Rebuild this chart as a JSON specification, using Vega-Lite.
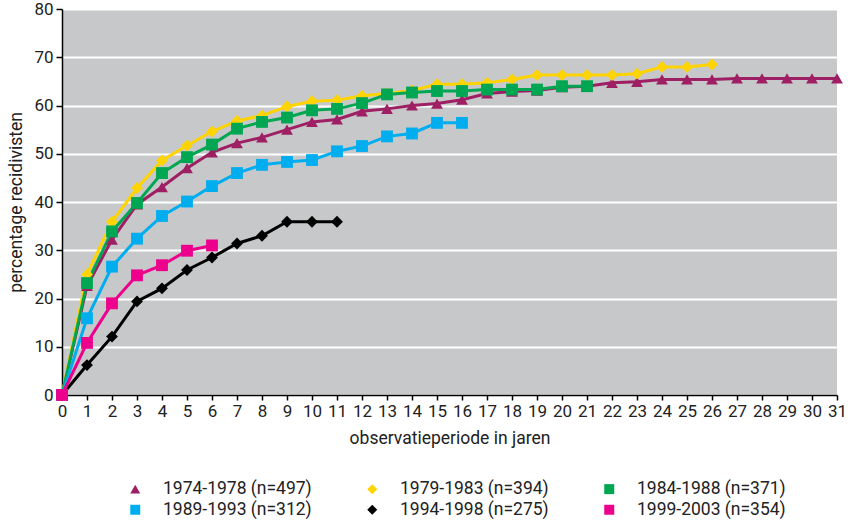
{
  "$schema": "https://vega.github.io/schema/vega-lite/v6.json",
  "width": 775,
  "height": 386,
  "autosize": "none",
  "padding": {"left": 62, "top": 9, "right": 18, "bottom": 127},
  "background": "white",
  "config": {
    "font": "Roboto",
    "view": {"fill": "#C7C8CA", "stroke": null},
    "axis": {"labelFont": "Roboto", "titleFont": "Roboto"},
    "legend": {"labelFont": "Roboto"}
  },
  "datasets": {
    "d": [
      {"s": "1974-1978 (n=497)", "x": 0, "y": 0},
      {"s": "1974-1978 (n=497)", "x": 1, "y": 22.6},
      {"s": "1974-1978 (n=497)", "x": 2, "y": 32.2},
      {"s": "1974-1978 (n=497)", "x": 3, "y": 39.5},
      {"s": "1974-1978 (n=497)", "x": 4, "y": 43.1},
      {"s": "1974-1978 (n=497)", "x": 5, "y": 47.0},
      {"s": "1974-1978 (n=497)", "x": 6, "y": 50.3},
      {"s": "1974-1978 (n=497)", "x": 7, "y": 52.2},
      {"s": "1974-1978 (n=497)", "x": 8, "y": 53.4},
      {"s": "1974-1978 (n=497)", "x": 9, "y": 55.0},
      {"s": "1974-1978 (n=497)", "x": 10, "y": 56.6},
      {"s": "1974-1978 (n=497)", "x": 11, "y": 57.1},
      {"s": "1974-1978 (n=497)", "x": 12, "y": 58.8},
      {"s": "1974-1978 (n=497)", "x": 13, "y": 59.3},
      {"s": "1974-1978 (n=497)", "x": 14, "y": 60.0},
      {"s": "1974-1978 (n=497)", "x": 15, "y": 60.4},
      {"s": "1974-1978 (n=497)", "x": 16, "y": 61.2},
      {"s": "1974-1978 (n=497)", "x": 17, "y": 62.5},
      {"s": "1974-1978 (n=497)", "x": 18, "y": 62.9},
      {"s": "1974-1978 (n=497)", "x": 19, "y": 63.1},
      {"s": "1974-1978 (n=497)", "x": 20, "y": 63.8},
      {"s": "1974-1978 (n=497)", "x": 21, "y": 64.0},
      {"s": "1974-1978 (n=497)", "x": 22, "y": 64.7},
      {"s": "1974-1978 (n=497)", "x": 23, "y": 64.9},
      {"s": "1974-1978 (n=497)", "x": 24, "y": 65.4},
      {"s": "1974-1978 (n=497)", "x": 25, "y": 65.4},
      {"s": "1974-1978 (n=497)", "x": 26, "y": 65.4},
      {"s": "1974-1978 (n=497)", "x": 27, "y": 65.6},
      {"s": "1974-1978 (n=497)", "x": 28, "y": 65.6},
      {"s": "1974-1978 (n=497)", "x": 29, "y": 65.6},
      {"s": "1974-1978 (n=497)", "x": 30, "y": 65.6},
      {"s": "1974-1978 (n=497)", "x": 31, "y": 65.6},
      {"s": "1979-1983 (n=394)", "x": 0, "y": 0},
      {"s": "1979-1983 (n=394)", "x": 1, "y": 25.0},
      {"s": "1979-1983 (n=394)", "x": 2, "y": 35.9},
      {"s": "1979-1983 (n=394)", "x": 3, "y": 42.9},
      {"s": "1979-1983 (n=394)", "x": 4, "y": 48.6},
      {"s": "1979-1983 (n=394)", "x": 5, "y": 51.7},
      {"s": "1979-1983 (n=394)", "x": 6, "y": 54.6},
      {"s": "1979-1983 (n=394)", "x": 7, "y": 56.8},
      {"s": "1979-1983 (n=394)", "x": 8, "y": 57.9},
      {"s": "1979-1983 (n=394)", "x": 9, "y": 59.8},
      {"s": "1979-1983 (n=394)", "x": 10, "y": 60.9},
      {"s": "1979-1983 (n=394)", "x": 11, "y": 61.1},
      {"s": "1979-1983 (n=394)", "x": 12, "y": 62.0},
      {"s": "1979-1983 (n=394)", "x": 13, "y": 62.5},
      {"s": "1979-1983 (n=394)", "x": 14, "y": 63.1},
      {"s": "1979-1983 (n=394)", "x": 15, "y": 64.4},
      {"s": "1979-1983 (n=394)", "x": 16, "y": 64.4},
      {"s": "1979-1983 (n=394)", "x": 17, "y": 64.7},
      {"s": "1979-1983 (n=394)", "x": 18, "y": 65.4},
      {"s": "1979-1983 (n=394)", "x": 19, "y": 66.3},
      {"s": "1979-1983 (n=394)", "x": 20, "y": 66.3},
      {"s": "1979-1983 (n=394)", "x": 21, "y": 66.3},
      {"s": "1979-1983 (n=394)", "x": 22, "y": 66.3},
      {"s": "1979-1983 (n=394)", "x": 23, "y": 66.6},
      {"s": "1979-1983 (n=394)", "x": 24, "y": 68.0},
      {"s": "1979-1983 (n=394)", "x": 25, "y": 68.0},
      {"s": "1979-1983 (n=394)", "x": 26, "y": 68.5},
      {"s": "1984-1988 (n=371)", "x": 0, "y": 0},
      {"s": "1984-1988 (n=371)", "x": 1, "y": 23.2},
      {"s": "1984-1988 (n=371)", "x": 2, "y": 33.9},
      {"s": "1984-1988 (n=371)", "x": 3, "y": 39.8},
      {"s": "1984-1988 (n=371)", "x": 4, "y": 46.0},
      {"s": "1984-1988 (n=371)", "x": 5, "y": 49.3},
      {"s": "1984-1988 (n=371)", "x": 6, "y": 51.9},
      {"s": "1984-1988 (n=371)", "x": 7, "y": 55.2},
      {"s": "1984-1988 (n=371)", "x": 8, "y": 56.6},
      {"s": "1984-1988 (n=371)", "x": 9, "y": 57.5},
      {"s": "1984-1988 (n=371)", "x": 10, "y": 59.0},
      {"s": "1984-1988 (n=371)", "x": 11, "y": 59.3},
      {"s": "1984-1988 (n=371)", "x": 12, "y": 60.5},
      {"s": "1984-1988 (n=371)", "x": 13, "y": 62.3},
      {"s": "1984-1988 (n=371)", "x": 14, "y": 62.7},
      {"s": "1984-1988 (n=371)", "x": 15, "y": 63.0},
      {"s": "1984-1988 (n=371)", "x": 16, "y": 63.0},
      {"s": "1984-1988 (n=371)", "x": 17, "y": 63.3},
      {"s": "1984-1988 (n=371)", "x": 18, "y": 63.3},
      {"s": "1984-1988 (n=371)", "x": 19, "y": 63.3},
      {"s": "1984-1988 (n=371)", "x": 20, "y": 64.0},
      {"s": "1984-1988 (n=371)", "x": 21, "y": 64.0},
      {"s": "1989-1993 (n=312)", "x": 0, "y": 0},
      {"s": "1989-1993 (n=312)", "x": 1, "y": 15.9},
      {"s": "1989-1993 (n=312)", "x": 2, "y": 26.6},
      {"s": "1989-1993 (n=312)", "x": 3, "y": 32.4},
      {"s": "1989-1993 (n=312)", "x": 4, "y": 37.1},
      {"s": "1989-1993 (n=312)", "x": 5, "y": 40.1},
      {"s": "1989-1993 (n=312)", "x": 6, "y": 43.3},
      {"s": "1989-1993 (n=312)", "x": 7, "y": 46.0},
      {"s": "1989-1993 (n=312)", "x": 8, "y": 47.7},
      {"s": "1989-1993 (n=312)", "x": 9, "y": 48.3},
      {"s": "1989-1993 (n=312)", "x": 10, "y": 48.7},
      {"s": "1989-1993 (n=312)", "x": 11, "y": 50.5},
      {"s": "1989-1993 (n=312)", "x": 12, "y": 51.6},
      {"s": "1989-1993 (n=312)", "x": 13, "y": 53.6},
      {"s": "1989-1993 (n=312)", "x": 14, "y": 54.2},
      {"s": "1989-1993 (n=312)", "x": 15, "y": 56.4},
      {"s": "1989-1993 (n=312)", "x": 16, "y": 56.4},
      {"s": "1994-1998 (n=275)", "x": 0, "y": 0},
      {"s": "1994-1998 (n=275)", "x": 1, "y": 6.2},
      {"s": "1994-1998 (n=275)", "x": 2, "y": 12.1},
      {"s": "1994-1998 (n=275)", "x": 3, "y": 19.4},
      {"s": "1994-1998 (n=275)", "x": 4, "y": 22.1},
      {"s": "1994-1998 (n=275)", "x": 5, "y": 25.9},
      {"s": "1994-1998 (n=275)", "x": 6, "y": 28.5},
      {"s": "1994-1998 (n=275)", "x": 7, "y": 31.4},
      {"s": "1994-1998 (n=275)", "x": 8, "y": 33.0},
      {"s": "1994-1998 (n=275)", "x": 9, "y": 35.9},
      {"s": "1994-1998 (n=275)", "x": 10, "y": 35.9},
      {"s": "1994-1998 (n=275)", "x": 11, "y": 35.9},
      {"s": "1999-2003 (n=354)", "x": 0, "y": 0},
      {"s": "1999-2003 (n=354)", "x": 1, "y": 10.8},
      {"s": "1999-2003 (n=354)", "x": 2, "y": 19.0},
      {"s": "1999-2003 (n=354)", "x": 3, "y": 24.8},
      {"s": "1999-2003 (n=354)", "x": 4, "y": 26.9},
      {"s": "1999-2003 (n=354)", "x": 5, "y": 29.9},
      {"s": "1999-2003 (n=354)", "x": 6, "y": 31.0}
    ]
  },
  "data": {"name": "d"},
  "mark": {"type": "line", "strokeWidth": 3, "point": {"filled": true, "size": 140, "opacity": 1}},
  "encoding": {
    "x": {
      "field": "x", "type": "quantitative",
      "scale": {"domain": [0, 31], "nice": false, "zero": false},
      "axis": {
        "values": [0,1,2,3,4,5,6,7,8,9,10,11,12,13,14,15,16,17,18,19,20,21,22,23,24,25,26,27,28,29,30,31],
        "format": "d", "grid": false,
        "title": "observatieperiode in jaren", "titleFontSize": 17.5, "titleFontWeight": "normal", "titleColor": "#222",
        "titlePadding": 10,
        "labelFontSize": 17, "labelColor": "#222", "labelFlush": false, "labelPadding": 3, "labelOverlap": false,
        "domainColor": "black", "domainWidth": 1.5, "tickColor": "black", "tickWidth": 1.5, "tickSize": 5
      }
    },
    "y": {
      "field": "y", "type": "quantitative",
      "scale": {"domain": [0, 80], "nice": false},
      "axis": {
        "values": [0,10,20,30,40,50,60,70,80],
        "grid": true, "gridColor": "white", "gridWidth": 2, "gridOpacity": 1,
        "title": "percentage recidivisten", "titleFontSize": 17.5, "titleFontWeight": "normal", "titleColor": "#222",
        "titlePadding": 8,
        "labelFontSize": 17, "labelColor": "#222", "labelPadding": 3,
        "domainColor": "black", "domainWidth": 1.5, "tickColor": "black", "tickWidth": 1.5, "tickSize": 6
      }
    },
    "color": {
      "field": "s", "type": "nominal",
      "scale": {
        "domain": ["1974-1978 (n=497)", "1979-1983 (n=394)", "1984-1988 (n=371)", "1989-1993 (n=312)", "1994-1998 (n=275)", "1999-2003 (n=354)"],
        "range": ["#9E1F63", "#FFD400", "#00A651", "#00AEEF", "#000000", "#EC008C"]
      },
      "legend": {
        "orient": "none", "legendX": 48, "legendY": 471, "direction": "horizontal", "columns": 3,
        "title": null, "padding": 0,
        "labelFontSize": 17.5, "labelColor": "#222", "labelLimit": 400,
        "symbolSize": 100, "symbolStrokeWidth": 0, "symbolOffset": 16.5, "labelOffset": 19,
        "columnPadding": 35, "rowPadding": 2
      }
    },
    "shape": {
      "field": "s", "type": "nominal",
      "scale": {
        "domain": ["1974-1978 (n=497)", "1979-1983 (n=394)", "1984-1988 (n=371)", "1989-1993 (n=312)", "1994-1998 (n=275)", "1999-2003 (n=354)"],
        "range": ["triangle-up", "diamond", "square", "square", "diamond", "square"]
      },
      "legend": null
    }
  }
}
